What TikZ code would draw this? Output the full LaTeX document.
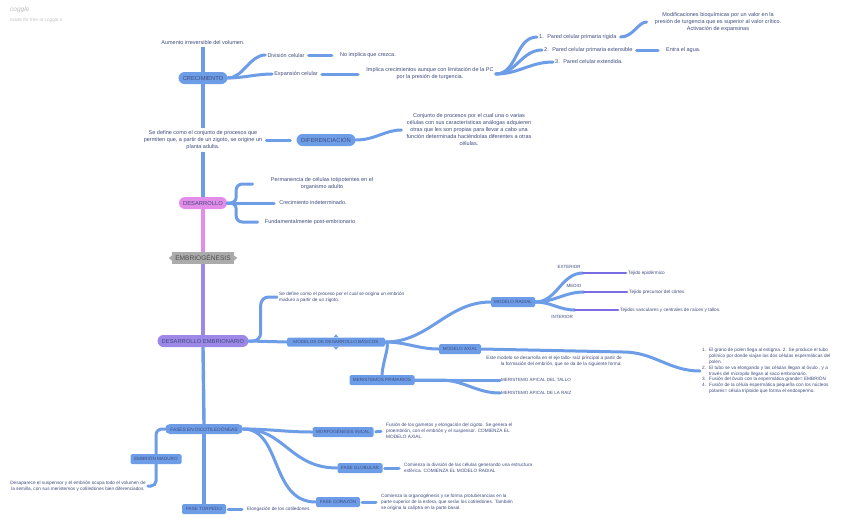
\documentclass[tikz,border=0pt]{standalone}
\usepackage{fontspec}
\setmainfont{Liberation Sans}
\usetikzlibrary{calc}
\definecolor{tc}{HTML}{3E4C7E}
\definecolor{bl}{HTML}{6E9DE8}
\definecolor{pk}{HTML}{E48CEA}
\definecolor{pu}{HTML}{9D88E8}
\definecolor{gr}{HTML}{ABABAB}
\definecolor{vi}{HTML}{7A6CE2}
\tikzset{
 txt/.style={text=tc, font=\fontsize{5.5}{7}\selectfont, align=center, inner sep=2pt},
 sm/.style={text=tc, font=\fontsize{4.7}{5.8}\selectfont, inner sep=2pt},
 lab/.style={text=tc, font=\fontsize{4.5}{5}\selectfont, inner sep=1pt},
 pill/.style={rounded corners=6pt, fill=bl, text=tc, font=\fontsize{5.8}{6}\selectfont, minimum height=12pt, inner xsep=4pt, inner ysep=0pt},
 boxn/.style={rounded corners=1.5pt, fill=bl, text=tc, font=\fontsize{4.6}{5}\selectfont, minimum height=10pt, inner xsep=3pt, inner ysep=0pt},
 br/.style={draw=bl, line width=3pt, line cap=round},
 tl/.style={br, shorten <=2pt, shorten >=6pt},
 mainl/.style={draw=bl, line width=3.4pt},
 vl/.style={draw=vi, line width=2.6pt, line cap=round},
}
\begin{document}
\begin{tikzpicture}[x=1pt,y=-1pt]
\useasboundingbox[fill=white] (0,0) rectangle (848,528);

% header
\node[anchor=west, text=gr!80, font=\itshape\fontsize{6.5}{7}\selectfont, inner sep=0] (logo) at (10,10) {coggle};
\node[anchor=west, text=gr!70, font=\fontsize{4.7}{5}\selectfont, inner sep=0] (made) at (10,20) {made for free at coggle.it};

% crecimiento
\node[txt] (aum) at (203,43) {Aumento irreversible del volumen.};
\node[pill, minimum width=49pt] (crec) at (203,78) {CRECIMIENTO};
\node[txt] (div) at (286,55) {División celular};
\node[txt] (noimp) at (368,55) {No implica que crezca.};
\node[txt] (exp) at (296,74) {Expansión celular};
\node[txt] (impl) at (430,74) {Implica crecimientos aunque con limitación de la PC\\por la presión de turgencia.};
\node[txt, anchor=west] (p1) at (537,37) {1.\hspace{3.5pt}Pared celular primaria rígida};
\node[txt, anchor=west] (p2) at (542,50) {2.\hspace{3.5pt}Pared celular primaria extensible};
\node[txt, anchor=west] (p3) at (553,62) {3.\hspace{3.5pt}Pared celular extendida.};
\node[txt] (modif) at (718,22) {Modificaciones bioquímicas por un valor en la\\presión de turgencia que es superior al valor crítico.\\Activación de expansinas};
\node[txt, anchor=west] (agua) at (664,50) {Entra el agua.};

% diferenciacion
\node[txt] (sedef) at (203,140) {Se define como el conjunto de procesos que\\permiten que, a partir de un zigoto, se origine un\\planta adulta.};
\node[pill, minimum width=59pt] (dif) at (326,140) {DIFERENCIACIÓN};
\node[txt] (conj) at (469,130) {Conjunto de procesos por el cual una o varias\\células con sus características análogas adquieren\\otras que les son propias para llevar a cabo una\\función determinada haciéndolas diferentes a otras\\células.};

% desarrollo
\node[pill, fill=pk, minimum width=48pt] (des) at (203,203) {DESARROLLO};
\node[txt] (perm) at (322,184) {Permanencia de células totipotentes en el\\organismo adulto};
\node[txt] (creci) at (313,203) {Crecimiento indeterminado.};
\node[txt] (fund) at (310,222) {Fundamentalmente post-embrionario};

% embriogenesis
\node[fill=gr, text=black!70, font=\fontsize{6.6}{7}\selectfont, minimum width=62pt, minimum height=12pt, inner sep=0pt] (emb) at (203,258) {EMBRIOGÉNESIS};
\fill[gr] (emb.west) ++(0,-2.5) -- ++(-3,2.5) -- ++(3,2.5) -- cycle;
\fill[gr] (emb.east) ++(0,-2.5) -- ++(3,2.5) -- ++(-3,2.5) -- cycle;

% desarrollo embrionario
\node[pill, fill=pu, minimum width=91pt] (demb) at (203,341) {DESARROLLO EMBRIONARIO};
\node[sm, anchor=west, align=left] (sedef2) at (277,297) {Se define como el proceso por el cual se origina un embrión\\maduro a partir de un zigoto.};
\node[boxn, minimum width=98pt, minimum height=9pt] (mod) at (336,342) {MODELOS DE DESARROLLO BÁSICOS};
\fill[bl] (mod.north) ++(-2.5,0) -- ++(2.5,-3) -- ++(2.5,3) -- cycle;
\fill[bl] (mod.south) ++(-2.5,0) -- ++(2.5,3) -- ++(2.5,-3) -- cycle;

\node[boxn, minimum width=44pt] (rad) at (513,302) {MODELO RADIAL};
\node[boxn, minimum width=42pt] (axi) at (460,349) {MODELO AXIAL};
\node[boxn, minimum width=65pt] (mer) at (382,380) {MERISTEMOS PRIMARIOS};

\node[lab] (extl) at (569,267) {EXTERIOR};
\node[lab] (medl) at (574,286) {MEDIO};
\node[lab] (intl) at (562,317) {INTERIOR};
\coordinate (e1) at (583,273);
\coordinate (e2) at (584,292);
\coordinate (e3) at (575,310);
\node[sm, anchor=west] (t1) at (626,273) {Tejido epidérmico};
\node[sm, anchor=west] (t2) at (627,292) {Tejido precursor del córtex.};
\node[sm, anchor=west] (t3) at (618,310) {Tejidos vasculares y centrales de raíces y tallos.};

\node[sm, anchor=east, align=right] (este) at (624,361) {Este modelo se desarrolla en el eje tallo- raíz principal a partir de\\la formación del embrión, que se da de la siguiente forma:};
\coordinate (ax1) at (623,352);
\node[sm, anchor=west, align=left] (list) at (700,371) {\begin{tabular}{@{}r@{\hspace{3pt}}l@{}}
1. & El grano de polen llega al estigma. 2. Se produce el tubo\\
 & polínico por donde viajan las dos células espermáticas del\\
 & polen.\\
2. & El tubo se va elongando y las células llegan al óvulo , y a\\
 & través del micropilo llegan al saco embrionario.\\
3. & Fusión del óvulo con la espermática grande= EMBRIÓN\\
4. & Fusión de la célula espermática pequeña con los núcleos\\
 & polares= célula triploide que forma el endospermo.
\end{tabular}};

\node[lab, anchor=west] (tallo) at (500,380) {MERISTEMO APICAL DEL TALLO};
\node[lab, anchor=west] (raiz) at (500,393) {MERISTEMO APICAL DE LA RAIZ};
\coordinate (mr) at (440,380);

% fases
\node[pill, font=\fontsize{4.8}{5}\selectfont, minimum width=78pt, minimum height=10pt, rounded corners=5pt] (fases) at (204,429) {FASES EN DICOTILEDÓNEAS};
\node[boxn, minimum width=51pt] (emad) at (156,459) {EMBRIÓN MADURO};
\node[sm, align=center] (desap) at (78,486) {Desaparece el suspensor y el embrión ocupa todo el volumen de\\la semilla, con sus meristemos y cotiledones bien diferenciados.};
\node[boxn, minimum width=44pt] (tor) at (204,509) {FASE TORPEDO};
\node[sm, anchor=west] (elong) at (245,509) {Elongación de los cotiledones.};
\node[boxn, minimum width=61pt] (morf) at (343,432) {MORFOGÉNESIS INICAL};
\node[sm, anchor=west, align=left] (fusion) at (384,431) {Fusión de los gametos y elongación del cigoto. Se genera el\\proembrión, con el embrión y el suspensor. COMIENZA EL\\MODELO AXIAL.};
\node[boxn, minimum width=45pt] (glob) at (360,468) {FASE GLOBULAR};
\node[sm, anchor=west, align=left] (comd) at (402,468) {Comienza la división de las células generando una estructura\\esférica. COMIENZA EL MODELO RADIAL};
\node[boxn, minimum width=44pt] (cor) at (338,502) {FASE CORAZÓN};
\node[sm, anchor=west, align=left] (como) at (379,502) {Comienza la organogénesis y se forma protuberancias en la\\parte superior de la esfera, que serán los cotiledones. También\\se origina la calíptra en la parte basal.};

% ---------- connectors ----------
\draw[mainl] (aum.south) -- (crec.north);
\draw[mainl] (crec.south) -- (sedef.north);
\draw[mainl] (sedef.south) -- (des.north);
\draw[mainl, draw=pk] (des.south) -- (emb.north);
\draw[mainl, draw=pu] (emb.south) -- (demb.north);
\draw[mainl] (demb.south) -- (fases.north);
\draw[mainl] (fases.south) -- (tor.north);

\draw[br] (crec.east) to[out=0,in=180,looseness=0.9] (div.west);
\draw[br] (crec.east) to[out=0,in=180,looseness=0.9] (exp.west);
\draw[tl] (div.east) -- (noimp.west);
\draw[tl] (exp.east) -- (impl.west);
\draw[br] (impl.east) to[out=0,in=180] (p1.west);
\draw[br] (impl.east) to[out=0,in=180] (p2.west);
\draw[br] (impl.east) to[out=0,in=180] (p3.west);
\draw[tl] (p1.east) to[out=0,in=180] (modif.west);
\draw[tl] (p2.east) -- (agua.west);

\draw[tl] (sedef.east) -- (dif.west);
\draw[tl, shorten <=0pt, shorten >=3pt] (dif.east) to[out=0,in=180] (conj.west);

\draw[br, rounded corners=6pt, shorten >=16pt] (des.east) -- ++(9,0) |- (perm.west);
\draw[br, shorten >=3pt] (des.east) -- (creci.west);
\draw[br, rounded corners=6pt, shorten >=5pt] (des.east) -- ++(9,0) |- (fund.west);

\draw[br, rounded corners=8pt] (demb.east) -- ++(12,0) |- (sedef2.west);
\draw[br] (demb.east) -- (mod.west);
\draw[br] (mod.east) to[out=0,in=180] (rad.west);
\draw[br] (mod.east) to[out=0,in=180] (axi.west);
\draw[br] (mod.east) .. controls ($(mod.east)+(6,0)$) and ($(mer.north)+(1,-15)$) .. (mer.north);

\draw[br] (rad.east) to[out=0,in=180] (e1);
\draw[br] (rad.east) to[out=0,in=180] (e2);
\draw[br] (rad.east) to[out=0,in=180] (e3);
\draw[vl] (e1) -- (t1.west);
\draw[vl] (e2) -- (t2.west);
\draw[vl] (e3) -- (t3.west);

\draw[br] (axi.east) -- (ax1) to[out=0,in=180] (list.west);
\draw[br] (mer.east) -- (tallo.west);
\draw[br] (mer.east) -- (mr) to[out=0,in=180] (raiz.west);

\draw[br, rounded corners=6pt] (fases.west) -| (emad.north);
\draw[br, rounded corners=5pt] (emad.south) |- (desap.east);
\draw[tl, shorten >=3pt] (tor.east) -- (elong.west);
\draw[br] (fases.east) to[out=0,in=180] (morf.west);
\draw[br] (fases.east) .. controls (285,429) and (290,468) .. (glob.west);
\draw[br] (fases.east) .. controls (282,429) and (270,502) .. (cor.west);
\draw[tl, shorten >=3pt] (morf.east) -- (fusion.west);
\draw[tl, shorten >=3pt] (glob.east) -- (comd.west);
\draw[tl, shorten >=3pt] (cor.east) -- (como.west);
\end{tikzpicture}
\end{document}
